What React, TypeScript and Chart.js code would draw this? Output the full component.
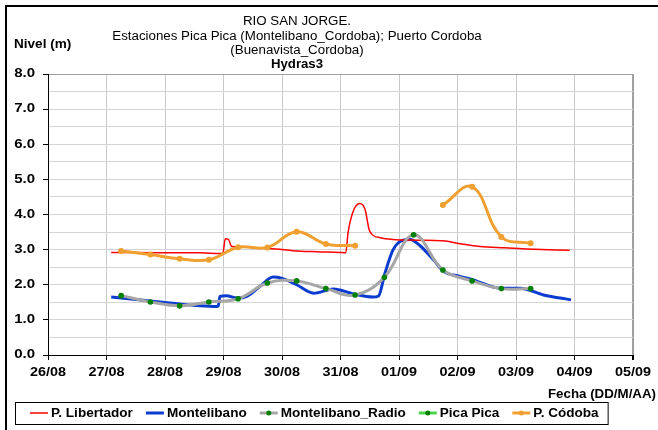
import React, { useEffect, useRef } from 'react';
import { Chart, registerables } from 'chart.js';

Chart.register(...registerables);

// ---- Data (x = days since 26/08 00:00) ----
const dayLabels = ['26/08', '27/08', '28/08', '29/08', '30/08', '31/08', '01/09', '02/09', '03/09', '04/09', '05/09'];
const yLabelValues = [0, 1, 2, 3, 4, 5, 6, 7, 8];

const titleLines = ['RIO SAN JORGE.', 'Estaciones Pica Pica (Montelibano_Cordoba); Puerto Cordoba', '(Buenavista_Cordoba)'];
const subTitle = 'Hydras3';
const yAxisTitle = 'Nivel (m)';
const xAxisTitle = 'Fecha (DD/M/AA)';

const libertadorX = [1.08, 2.0, 2.6, 2.94, 2.99, 3.03, 3.08, 3.14, 3.3, 3.6, 3.9, 4.19, 4.6, 4.99, 5.09, 5.13, 5.21, 5.33, 5.42, 5.5, 5.68, 5.9, 6.3, 6.75, 7.04, 7.38, 7.8, 8.19, 8.92];
const libertadorY = [2.92, 2.91, 2.91, 2.89, 2.9, 3.31, 3.3, 3.09, 3.08, 3.05, 3.02, 2.97, 2.94, 2.92, 2.91, 3.49, 4.06, 4.31, 4.14, 3.52, 3.34, 3.29, 3.27, 3.25, 3.17, 3.09, 3.05, 3.02, 2.98];

const montelibanoX = [1.08, 1.46, 1.74, 2.26, 2.6, 2.88, 2.91, 2.94, 3.05, 3.23, 3.4, 3.62, 3.85, 3.99, 4.25, 4.54, 4.88, 5.22, 5.56, 5.65, 5.76, 5.9, 6.07, 6.19, 6.36, 6.59, 6.76, 7.04, 7.27, 7.73, 8.07, 8.47, 8.94];
const montelibanoY = [1.65, 1.59, 1.54, 1.45, 1.4, 1.38, 1.4, 1.67, 1.69, 1.62, 1.67, 1.95, 2.22, 2.19, 2.0, 1.76, 1.88, 1.74, 1.65, 1.68, 2.33, 3.0, 3.27, 3.29, 3.11, 2.71, 2.38, 2.24, 2.14, 1.9, 1.9, 1.71, 1.57];

const sampleX = [1.25, 1.75, 2.25, 2.75, 3.25, 3.75, 4.25, 4.75, 5.25, 5.75, 6.25, 6.75, 7.25, 7.75, 8.25];
const radioY = [1.69, 1.51, 1.4, 1.51, 1.6, 2.05, 2.11, 1.89, 1.71, 2.21, 3.42, 2.42, 2.11, 1.89, 1.89];
const picaPicaY: (number | null)[] = [];
const cordobaY = [2.96, 2.86, 2.74, 2.71, 3.07, 3.06, 3.51, 3.16, 3.11, null, null, 4.27, 4.79, 3.36, 3.18];

const FONT = '"Liberation Sans", Arial, sans-serif';

const toPts = (xs: number[], ys: (number | null)[]) =>
  ys.map((y, i) => ({ x: xs[i], y }));

function drawText(
  ctx: CanvasRenderingContext2D,
  text: string,
  x: number,
  y: number,
  align: CanvasTextAlign,
  baseline: CanvasTextBaseline,
  sx: number
) {
  ctx.save();
  ctx.translate(x, y);
  ctx.scale(sx, 1);
  ctx.textAlign = align;
  ctx.textBaseline = baseline;
  ctx.fillText(text, 0, 0);
  ctx.restore();
}

const decorPlugin = {
  id: 'decor',
  afterDraw(chart: any) {
    const ctx = chart.ctx as CanvasRenderingContext2D;
    ctx.save();
    // outer frame (top + left)
    ctx.fillStyle = '#000';
    ctx.fillRect(5, 5, 653, 2);
    ctx.fillRect(5, 5, 2, 425);

    // titles
    ctx.font = `12px ${FONT}`;
    const cx = 297;
    const ys = [25, 39.5, 54];
    titleLines.forEach((t, i) => drawText(ctx, t, cx, ys[i], 'center', 'alphabetic', 1.11));
    ctx.font = `bold 12px ${FONT}`;
    drawText(ctx, subTitle, cx, 68, 'center', 'alphabetic', 1.1);

    // axis titles
    drawText(ctx, yAxisTitle, 14, 48, 'left', 'alphabetic', 1.13);
    drawText(ctx, xAxisTitle, 656, 398, 'right', 'alphabetic', 1.11);

    // tick labels
    const xs = chart.scales.x;
    const yS = chart.scales.y;
    dayLabels.forEach((lab, i) => {
      drawText(ctx, lab, xs.getPixelForValue(i), 373, 'center', 'middle', 1.2);
    });
    yLabelValues.forEach((v) => {
      drawText(ctx, v.toFixed(1), 35, yS.getPixelForValue(v), 'right', 'middle', 1.25);
    });

    // legend
    const top = 402, bottom = 424, midY = 413;
    const lsx = 1.13;
    let x = 30;
    chart.data.datasets.forEach((ds: any) => {
      ctx.strokeStyle = ds.borderColor;
      ctx.lineWidth = ds.borderWidth;
      ctx.beginPath();
      ctx.moveTo(x, midY);
      ctx.lineTo(x + 18, midY);
      ctx.stroke();
      if (ds.pointRadius > 0) {
        ctx.fillStyle = ds.pointBackgroundColor;
        ctx.beginPath();
        ctx.arc(x + 9, midY, 2.5, 0, Math.PI * 2);
        ctx.fill();
      }
      ctx.fillStyle = '#000';
      drawText(ctx, ds.label, x + 21, midY + 1, 'left', 'middle', lsx);
      x += 21 + ctx.measureText(ds.label).width * lsx + 13;
    });
    const right = x - 13 + 9;
    ctx.strokeStyle = '#000';
    ctx.lineWidth = 1;
    ctx.strokeRect(15.5, top + 0.5, right - 15, bottom - top);
    ctx.restore();
  },
};

export default function App() {
  const ref = useRef<HTMLCanvasElement | null>(null);
  useEffect(() => {
    document.body.style.margin = '0';
    const canvas = ref.current!;
    const chart = new Chart(canvas, {
      type: 'line',
      data: {
        datasets: [
          {
            label: 'P. Libertador',
            data: toPts(libertadorX, libertadorY),
            borderColor: '#FF0000',
            backgroundColor: '#FF0000',
            borderWidth: 1.5,
            pointRadius: 0,
            cubicInterpolationMode: 'monotone',
            order: 3,
          } as any,
          {
            label: 'Montelibano',
            data: toPts(montelibanoX, montelibanoY),
            borderColor: '#0B3BCF',
            backgroundColor: '#0B3BCF',
            borderWidth: 3,
            pointRadius: 0,
            cubicInterpolationMode: 'monotone',
            order: 4,
          },
          {
            label: 'Montelibano_Radio',
            data: toPts(sampleX, radioY),
            borderColor: '#A6A6A6',
            backgroundColor: '#A6A6A6',
            borderWidth: 3,
            pointRadius: 2.8,
            pointBorderWidth: 0,
            pointBackgroundColor: '#008000',
            tension: 0.4,
            order: 2,
          },
          {
            label: 'Pica Pica',
            data: toPts(sampleX, picaPicaY),
            borderColor: '#4CD34C',
            backgroundColor: '#4CD34C',
            borderWidth: 3,
            pointRadius: 2.8,
            pointBorderWidth: 0,
            pointBackgroundColor: '#008000',
            tension: 0.4,
            order: 1,
          },
          {
            label: 'P. Códoba',
            data: toPts(sampleX, cordobaY),
            borderColor: '#F0A030',
            backgroundColor: '#F0A030',
            borderWidth: 3,
            pointRadius: 3,
            pointBorderWidth: 0,
            pointBackgroundColor: '#F0A030',
            tension: 0.4,
            spanGaps: false,
            order: 0,
          },
        ],
      },
      options: {
        animation: false,
        responsive: false,
        maintainAspectRatio: false,
        layout: { padding: { top: 74, right: 25, left: 0, bottom: 0 } },
        plugins: {
          legend: { display: false },
          title: { display: false },
          tooltip: { enabled: false },
        },
        scales: {
          x: {
            type: 'linear',
            min: 0,
            max: 10,
            afterFit: (s: any) => { s.height = 75; },
            ticks: {
              stepSize: 1,
              autoSkip: false,
              display: false,
            },
            grid: {
              color: (c: any) => (c.tick && c.tick.value === 10 ? '#A0A0A0' : '#C8C8C8'),
              tickColor: '#000',
              tickLength: 5,
              lineWidth: (c: any) => (c.tick && c.tick.value === 10 ? 2 : 1),
            },
            border: { color: '#000', width: 1 },
          },
          y: {
            min: 0,
            max: 8,
            afterFit: (s: any) => { s.width = 48; },
            ticks: {
              stepSize: 0.5,
              autoSkip: false,
              display: false,
            },
            grid: {
              color: (c: any) => (c.tick && c.tick.value === 8 ? '#A0A0A0' : '#D4D4D4'),
              tickColor: (c: any) => (c.tick && Number.isInteger(c.tick.value) ? '#000' : 'rgba(0,0,0,0)'),
              tickLength: 5,
            },
            border: { color: '#000', width: 1 },
          },
        },
      } as any,
      plugins: [decorPlugin],
    });
    return () => chart.destroy();
  }, []);
  return (
    <div style={{ width: 658, height: 430, background: '#fff' }}>
      <canvas ref={ref} width={658} height={430} style={{ display: 'block' }} />
    </div>
  );
}
